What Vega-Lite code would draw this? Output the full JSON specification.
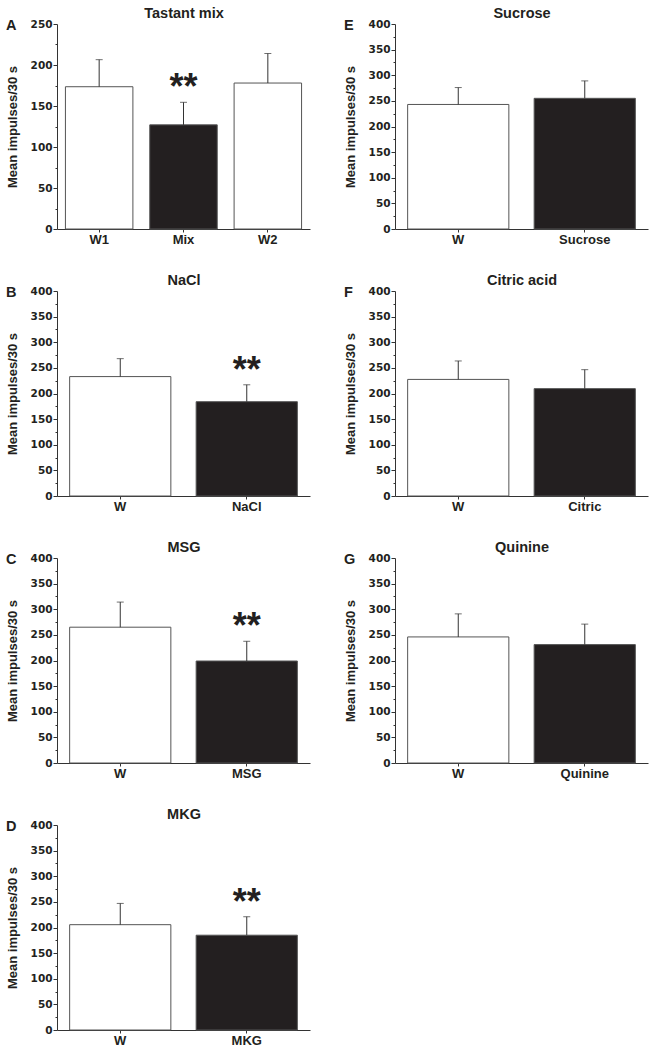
{
  "$schema": "https://vega.github.io/schema/vega-lite/v6.json",
  "padding": {"left": 6, "top": 5, "right": 4, "bottom": 2},
  "datasets": {
    "taste": [
      {"panel": "A", "cond": "W1", "mean": 173.5, "err": 206.5, "kind": "water", "sig": ""},
      {"panel": "A", "cond": "Mix", "mean": 127, "err": 154.5, "kind": "tastant", "sig": "**"},
      {"panel": "A", "cond": "W2", "mean": 178, "err": 214, "kind": "water", "sig": ""},
      {"panel": "B", "cond": "W", "mean": 233, "err": 268, "kind": "water", "sig": ""},
      {"panel": "B", "cond": "NaCl", "mean": 184, "err": 217, "kind": "tastant", "sig": "**"},
      {"panel": "C", "cond": "W", "mean": 265, "err": 314, "kind": "water", "sig": ""},
      {"panel": "C", "cond": "MSG", "mean": 199, "err": 237.5, "kind": "tastant", "sig": "**"},
      {"panel": "D", "cond": "W", "mean": 205.5, "err": 247, "kind": "water", "sig": ""},
      {"panel": "D", "cond": "MKG", "mean": 185, "err": 221, "kind": "tastant", "sig": "**"},
      {"panel": "E", "cond": "W", "mean": 243, "err": 276, "kind": "water", "sig": ""},
      {"panel": "E", "cond": "Sucrose", "mean": 255, "err": 289, "kind": "tastant", "sig": ""},
      {"panel": "F", "cond": "W", "mean": 227.5, "err": 263.5, "kind": "water", "sig": ""},
      {"panel": "F", "cond": "Citric", "mean": 209.5, "err": 246.5, "kind": "tastant", "sig": ""},
      {"panel": "G", "cond": "W", "mean": 246, "err": 291, "kind": "water", "sig": ""},
      {"panel": "G", "cond": "Quinine", "mean": 231, "err": 271, "kind": "tastant", "sig": ""}
    ]
  },
  "data": {"name": "taste"},
  "columns": 2,
  "spacing": {"row": 62, "column": 85},
  "bounds": "flush",
  "concat": [
    {
      "title": {"text": "A"},
      "width": 253, "height": 205,
      "transform": [{"filter": "datum.panel === 'A'"}],
      "layer": [
        {"mark": {"type": "bar", "stroke": "#555", "strokeWidth": 1},
         "encoding": {
           "x": {"field": "cond", "type": "nominal", "sort": null, "scale": {"paddingInner": 0.2, "paddingOuter": 0.1}, "axis": {"title": null, "labelAngle": 0, "tickSize": 3, "labelPadding": 1, "labelFontSize": 13}},
           "y": {"field": "mean", "type": "quantitative", "scale": {"domain": [0, 250], "nice": false}, "axis": {"title": "Mean impulses/30 s", "values": [0,25,50,75,100,125,150,175,200,225,250], "labelOverlap": false, "labelExpr": "datum.value % 50 === 0 ? datum.label : ''", "tickSize": {"condition": {"test": "datum.value % 50 === 0", "value": 4}, "value": 2}}},
           "color": {"field": "kind", "type": "nominal", "scale": {"domain": ["water", "tastant"], "range": ["#ffffff", "#231f20"]}, "legend": null}
         }},
        {"mark": {"type": "rule", "color": "#333", "strokeWidth": 1},
         "encoding": {
           "x": {"field": "cond", "type": "nominal", "sort": null, "axis": null},
           "y": {"field": "mean", "type": "quantitative", "scale": {"domain": [0, 250], "nice": false}, "axis": {"title": "Mean impulses/30 s", "values": [0,25,50,75,100,125,150,175,200,225,250], "labelOverlap": false, "labelExpr": "datum.value % 50 === 0 ? datum.label : ''", "tickSize": {"condition": {"test": "datum.value % 50 === 0", "value": 4}, "value": 2}}},
           "y2": {"field": "err"}
         }},
        {"mark": {"type": "tick", "color": "#333", "size": 7, "thickness": 1},
         "encoding": {
           "x": {"field": "cond", "type": "nominal", "sort": null, "axis": {"orient": "top", "title": "Tastant mix", "labels": false, "ticks": false, "domain": false, "titlePadding": 4, "titleFontSize": 14.5}},
           "y": {"field": "err", "type": "quantitative", "scale": {"domain": [0, 250], "nice": false}, "axis": {"title": "Mean impulses/30 s", "values": [0,25,50,75,100,125,150,175,200,225,250], "labelOverlap": false, "labelExpr": "datum.value % 50 === 0 ? datum.label : ''", "tickSize": {"condition": {"test": "datum.value % 50 === 0", "value": 4}, "value": 2}}}
         }},
        {"transform": [{"filter": "datum.sig !== ''"}],
         "mark": {"type": "text", "fontSize": 36, "fontWeight": "bold", "baseline": "alphabetic", "dy": -3, "color": "#231f20"},
         "encoding": {
           "x": {"field": "cond", "type": "nominal", "sort": null, "axis": null},
           "y": {"field": "err", "type": "quantitative", "scale": {"domain": [0, 250], "nice": false}, "axis": {"title": "Mean impulses/30 s", "values": [0,25,50,75,100,125,150,175,200,225,250], "labelOverlap": false, "labelExpr": "datum.value % 50 === 0 ? datum.label : ''", "tickSize": {"condition": {"test": "datum.value % 50 === 0", "value": 4}, "value": 2}}},
           "text": {"field": "sig"}
         }}
      ],
      "resolve": {"axis": {"x": "independent"}}
    },
    {
      "title": {"text": "E"},
      "width": 253, "height": 205,
      "transform": [{"filter": "datum.panel === 'E'"}],
      "layer": [
        {"mark": {"type": "bar", "stroke": "#555", "strokeWidth": 1},
         "encoding": {
           "x": {"field": "cond", "type": "nominal", "sort": null, "scale": {"paddingInner": 0.2, "paddingOuter": 0.1}, "axis": {"title": null, "labelAngle": 0, "tickSize": 3, "labelPadding": 1, "labelFontSize": 13}},
           "y": {"field": "mean", "type": "quantitative", "scale": {"domain": [0, 400], "nice": false}, "axis": {"title": "Mean impulses/30 s", "values": [0,25,50,75,100,125,150,175,200,225,250,275,300,325,350,375,400], "labelOverlap": false, "labelExpr": "datum.value % 50 === 0 ? datum.label : ''", "tickSize": {"condition": {"test": "datum.value % 50 === 0", "value": 4}, "value": 2}}},
           "color": {"field": "kind", "type": "nominal", "scale": {"domain": ["water", "tastant"], "range": ["#ffffff", "#231f20"]}, "legend": null}
         }},
        {"mark": {"type": "rule", "color": "#333", "strokeWidth": 1},
         "encoding": {
           "x": {"field": "cond", "type": "nominal", "sort": null, "axis": null},
           "y": {"field": "mean", "type": "quantitative", "scale": {"domain": [0, 400], "nice": false}, "axis": {"title": "Mean impulses/30 s", "values": [0,25,50,75,100,125,150,175,200,225,250,275,300,325,350,375,400], "labelOverlap": false, "labelExpr": "datum.value % 50 === 0 ? datum.label : ''", "tickSize": {"condition": {"test": "datum.value % 50 === 0", "value": 4}, "value": 2}}},
           "y2": {"field": "err"}
         }},
        {"mark": {"type": "tick", "color": "#333", "size": 7, "thickness": 1},
         "encoding": {
           "x": {"field": "cond", "type": "nominal", "sort": null, "axis": {"orient": "top", "title": "Sucrose", "labels": false, "ticks": false, "domain": false, "titlePadding": 4, "titleFontSize": 14.5}},
           "y": {"field": "err", "type": "quantitative", "scale": {"domain": [0, 400], "nice": false}, "axis": {"title": "Mean impulses/30 s", "values": [0,25,50,75,100,125,150,175,200,225,250,275,300,325,350,375,400], "labelOverlap": false, "labelExpr": "datum.value % 50 === 0 ? datum.label : ''", "tickSize": {"condition": {"test": "datum.value % 50 === 0", "value": 4}, "value": 2}}}
         }}
      ],
      "resolve": {"axis": {"x": "independent"}}
    },
    {
      "title": {"text": "B"},
      "width": 253, "height": 205,
      "transform": [{"filter": "datum.panel === 'B'"}],
      "layer": [
        {"mark": {"type": "bar", "stroke": "#555", "strokeWidth": 1},
         "encoding": {
           "x": {"field": "cond", "type": "nominal", "sort": null, "scale": {"paddingInner": 0.2, "paddingOuter": 0.1}, "axis": {"title": null, "labelAngle": 0, "tickSize": 3, "labelPadding": 1, "labelFontSize": 13}},
           "y": {"field": "mean", "type": "quantitative", "scale": {"domain": [0, 400], "nice": false}, "axis": {"title": "Mean impulses/30 s", "values": [0,25,50,75,100,125,150,175,200,225,250,275,300,325,350,375,400], "labelOverlap": false, "labelExpr": "datum.value % 50 === 0 ? datum.label : ''", "tickSize": {"condition": {"test": "datum.value % 50 === 0", "value": 4}, "value": 2}}},
           "color": {"field": "kind", "type": "nominal", "scale": {"domain": ["water", "tastant"], "range": ["#ffffff", "#231f20"]}, "legend": null}
         }},
        {"mark": {"type": "rule", "color": "#333", "strokeWidth": 1},
         "encoding": {
           "x": {"field": "cond", "type": "nominal", "sort": null, "axis": null},
           "y": {"field": "mean", "type": "quantitative", "scale": {"domain": [0, 400], "nice": false}, "axis": {"title": "Mean impulses/30 s", "values": [0,25,50,75,100,125,150,175,200,225,250,275,300,325,350,375,400], "labelOverlap": false, "labelExpr": "datum.value % 50 === 0 ? datum.label : ''", "tickSize": {"condition": {"test": "datum.value % 50 === 0", "value": 4}, "value": 2}}},
           "y2": {"field": "err"}
         }},
        {"mark": {"type": "tick", "color": "#333", "size": 7, "thickness": 1},
         "encoding": {
           "x": {"field": "cond", "type": "nominal", "sort": null, "axis": {"orient": "top", "title": "NaCl", "labels": false, "ticks": false, "domain": false, "titlePadding": 4, "titleFontSize": 14.5}},
           "y": {"field": "err", "type": "quantitative", "scale": {"domain": [0, 400], "nice": false}, "axis": {"title": "Mean impulses/30 s", "values": [0,25,50,75,100,125,150,175,200,225,250,275,300,325,350,375,400], "labelOverlap": false, "labelExpr": "datum.value % 50 === 0 ? datum.label : ''", "tickSize": {"condition": {"test": "datum.value % 50 === 0", "value": 4}, "value": 2}}}
         }},
        {"transform": [{"filter": "datum.sig !== ''"}],
         "mark": {"type": "text", "fontSize": 36, "fontWeight": "bold", "baseline": "alphabetic", "dy": -3, "color": "#231f20"},
         "encoding": {
           "x": {"field": "cond", "type": "nominal", "sort": null, "axis": null},
           "y": {"field": "err", "type": "quantitative", "scale": {"domain": [0, 400], "nice": false}, "axis": {"title": "Mean impulses/30 s", "values": [0,25,50,75,100,125,150,175,200,225,250,275,300,325,350,375,400], "labelOverlap": false, "labelExpr": "datum.value % 50 === 0 ? datum.label : ''", "tickSize": {"condition": {"test": "datum.value % 50 === 0", "value": 4}, "value": 2}}},
           "text": {"field": "sig"}
         }}
      ],
      "resolve": {"axis": {"x": "independent"}}
    },
    {
      "title": {"text": "F"},
      "width": 253, "height": 205,
      "transform": [{"filter": "datum.panel === 'F'"}],
      "layer": [
        {"mark": {"type": "bar", "stroke": "#555", "strokeWidth": 1},
         "encoding": {
           "x": {"field": "cond", "type": "nominal", "sort": null, "scale": {"paddingInner": 0.2, "paddingOuter": 0.1}, "axis": {"title": null, "labelAngle": 0, "tickSize": 3, "labelPadding": 1, "labelFontSize": 13}},
           "y": {"field": "mean", "type": "quantitative", "scale": {"domain": [0, 400], "nice": false}, "axis": {"title": "Mean impulses/30 s", "values": [0,25,50,75,100,125,150,175,200,225,250,275,300,325,350,375,400], "labelOverlap": false, "labelExpr": "datum.value % 50 === 0 ? datum.label : ''", "tickSize": {"condition": {"test": "datum.value % 50 === 0", "value": 4}, "value": 2}}},
           "color": {"field": "kind", "type": "nominal", "scale": {"domain": ["water", "tastant"], "range": ["#ffffff", "#231f20"]}, "legend": null}
         }},
        {"mark": {"type": "rule", "color": "#333", "strokeWidth": 1},
         "encoding": {
           "x": {"field": "cond", "type": "nominal", "sort": null, "axis": null},
           "y": {"field": "mean", "type": "quantitative", "scale": {"domain": [0, 400], "nice": false}, "axis": {"title": "Mean impulses/30 s", "values": [0,25,50,75,100,125,150,175,200,225,250,275,300,325,350,375,400], "labelOverlap": false, "labelExpr": "datum.value % 50 === 0 ? datum.label : ''", "tickSize": {"condition": {"test": "datum.value % 50 === 0", "value": 4}, "value": 2}}},
           "y2": {"field": "err"}
         }},
        {"mark": {"type": "tick", "color": "#333", "size": 7, "thickness": 1},
         "encoding": {
           "x": {"field": "cond", "type": "nominal", "sort": null, "axis": {"orient": "top", "title": "Citric acid", "labels": false, "ticks": false, "domain": false, "titlePadding": 4, "titleFontSize": 14.5}},
           "y": {"field": "err", "type": "quantitative", "scale": {"domain": [0, 400], "nice": false}, "axis": {"title": "Mean impulses/30 s", "values": [0,25,50,75,100,125,150,175,200,225,250,275,300,325,350,375,400], "labelOverlap": false, "labelExpr": "datum.value % 50 === 0 ? datum.label : ''", "tickSize": {"condition": {"test": "datum.value % 50 === 0", "value": 4}, "value": 2}}}
         }}
      ],
      "resolve": {"axis": {"x": "independent"}}
    },
    {
      "title": {"text": "C"},
      "width": 253, "height": 205,
      "transform": [{"filter": "datum.panel === 'C'"}],
      "layer": [
        {"mark": {"type": "bar", "stroke": "#555", "strokeWidth": 1},
         "encoding": {
           "x": {"field": "cond", "type": "nominal", "sort": null, "scale": {"paddingInner": 0.2, "paddingOuter": 0.1}, "axis": {"title": null, "labelAngle": 0, "tickSize": 3, "labelPadding": 1, "labelFontSize": 13}},
           "y": {"field": "mean", "type": "quantitative", "scale": {"domain": [0, 400], "nice": false}, "axis": {"title": "Mean impulses/30 s", "values": [0,25,50,75,100,125,150,175,200,225,250,275,300,325,350,375,400], "labelOverlap": false, "labelExpr": "datum.value % 50 === 0 ? datum.label : ''", "tickSize": {"condition": {"test": "datum.value % 50 === 0", "value": 4}, "value": 2}}},
           "color": {"field": "kind", "type": "nominal", "scale": {"domain": ["water", "tastant"], "range": ["#ffffff", "#231f20"]}, "legend": null}
         }},
        {"mark": {"type": "rule", "color": "#333", "strokeWidth": 1},
         "encoding": {
           "x": {"field": "cond", "type": "nominal", "sort": null, "axis": null},
           "y": {"field": "mean", "type": "quantitative", "scale": {"domain": [0, 400], "nice": false}, "axis": {"title": "Mean impulses/30 s", "values": [0,25,50,75,100,125,150,175,200,225,250,275,300,325,350,375,400], "labelOverlap": false, "labelExpr": "datum.value % 50 === 0 ? datum.label : ''", "tickSize": {"condition": {"test": "datum.value % 50 === 0", "value": 4}, "value": 2}}},
           "y2": {"field": "err"}
         }},
        {"mark": {"type": "tick", "color": "#333", "size": 7, "thickness": 1},
         "encoding": {
           "x": {"field": "cond", "type": "nominal", "sort": null, "axis": {"orient": "top", "title": "MSG", "labels": false, "ticks": false, "domain": false, "titlePadding": 4, "titleFontSize": 14.5}},
           "y": {"field": "err", "type": "quantitative", "scale": {"domain": [0, 400], "nice": false}, "axis": {"title": "Mean impulses/30 s", "values": [0,25,50,75,100,125,150,175,200,225,250,275,300,325,350,375,400], "labelOverlap": false, "labelExpr": "datum.value % 50 === 0 ? datum.label : ''", "tickSize": {"condition": {"test": "datum.value % 50 === 0", "value": 4}, "value": 2}}}
         }},
        {"transform": [{"filter": "datum.sig !== ''"}],
         "mark": {"type": "text", "fontSize": 36, "fontWeight": "bold", "baseline": "alphabetic", "dy": -3, "color": "#231f20"},
         "encoding": {
           "x": {"field": "cond", "type": "nominal", "sort": null, "axis": null},
           "y": {"field": "err", "type": "quantitative", "scale": {"domain": [0, 400], "nice": false}, "axis": {"title": "Mean impulses/30 s", "values": [0,25,50,75,100,125,150,175,200,225,250,275,300,325,350,375,400], "labelOverlap": false, "labelExpr": "datum.value % 50 === 0 ? datum.label : ''", "tickSize": {"condition": {"test": "datum.value % 50 === 0", "value": 4}, "value": 2}}},
           "text": {"field": "sig"}
         }}
      ],
      "resolve": {"axis": {"x": "independent"}}
    },
    {
      "title": {"text": "G"},
      "width": 253, "height": 205,
      "transform": [{"filter": "datum.panel === 'G'"}],
      "layer": [
        {"mark": {"type": "bar", "stroke": "#555", "strokeWidth": 1},
         "encoding": {
           "x": {"field": "cond", "type": "nominal", "sort": null, "scale": {"paddingInner": 0.2, "paddingOuter": 0.1}, "axis": {"title": null, "labelAngle": 0, "tickSize": 3, "labelPadding": 1, "labelFontSize": 13}},
           "y": {"field": "mean", "type": "quantitative", "scale": {"domain": [0, 400], "nice": false}, "axis": {"title": "Mean impulses/30 s", "values": [0,25,50,75,100,125,150,175,200,225,250,275,300,325,350,375,400], "labelOverlap": false, "labelExpr": "datum.value % 50 === 0 ? datum.label : ''", "tickSize": {"condition": {"test": "datum.value % 50 === 0", "value": 4}, "value": 2}}},
           "color": {"field": "kind", "type": "nominal", "scale": {"domain": ["water", "tastant"], "range": ["#ffffff", "#231f20"]}, "legend": null}
         }},
        {"mark": {"type": "rule", "color": "#333", "strokeWidth": 1},
         "encoding": {
           "x": {"field": "cond", "type": "nominal", "sort": null, "axis": null},
           "y": {"field": "mean", "type": "quantitative", "scale": {"domain": [0, 400], "nice": false}, "axis": {"title": "Mean impulses/30 s", "values": [0,25,50,75,100,125,150,175,200,225,250,275,300,325,350,375,400], "labelOverlap": false, "labelExpr": "datum.value % 50 === 0 ? datum.label : ''", "tickSize": {"condition": {"test": "datum.value % 50 === 0", "value": 4}, "value": 2}}},
           "y2": {"field": "err"}
         }},
        {"mark": {"type": "tick", "color": "#333", "size": 7, "thickness": 1},
         "encoding": {
           "x": {"field": "cond", "type": "nominal", "sort": null, "axis": {"orient": "top", "title": "Quinine", "labels": false, "ticks": false, "domain": false, "titlePadding": 4, "titleFontSize": 14.5}},
           "y": {"field": "err", "type": "quantitative", "scale": {"domain": [0, 400], "nice": false}, "axis": {"title": "Mean impulses/30 s", "values": [0,25,50,75,100,125,150,175,200,225,250,275,300,325,350,375,400], "labelOverlap": false, "labelExpr": "datum.value % 50 === 0 ? datum.label : ''", "tickSize": {"condition": {"test": "datum.value % 50 === 0", "value": 4}, "value": 2}}}
         }}
      ],
      "resolve": {"axis": {"x": "independent"}}
    },
    {
      "title": {"text": "D"},
      "width": 253, "height": 205,
      "transform": [{"filter": "datum.panel === 'D'"}],
      "layer": [
        {"mark": {"type": "bar", "stroke": "#555", "strokeWidth": 1},
         "encoding": {
           "x": {"field": "cond", "type": "nominal", "sort": null, "scale": {"paddingInner": 0.2, "paddingOuter": 0.1}, "axis": {"title": null, "labelAngle": 0, "tickSize": 3, "labelPadding": 1, "labelFontSize": 13}},
           "y": {"field": "mean", "type": "quantitative", "scale": {"domain": [0, 400], "nice": false}, "axis": {"title": "Mean impulses/30 s", "values": [0,25,50,75,100,125,150,175,200,225,250,275,300,325,350,375,400], "labelOverlap": false, "labelExpr": "datum.value % 50 === 0 ? datum.label : ''", "tickSize": {"condition": {"test": "datum.value % 50 === 0", "value": 4}, "value": 2}}},
           "color": {"field": "kind", "type": "nominal", "scale": {"domain": ["water", "tastant"], "range": ["#ffffff", "#231f20"]}, "legend": null}
         }},
        {"mark": {"type": "rule", "color": "#333", "strokeWidth": 1},
         "encoding": {
           "x": {"field": "cond", "type": "nominal", "sort": null, "axis": null},
           "y": {"field": "mean", "type": "quantitative", "scale": {"domain": [0, 400], "nice": false}, "axis": {"title": "Mean impulses/30 s", "values": [0,25,50,75,100,125,150,175,200,225,250,275,300,325,350,375,400], "labelOverlap": false, "labelExpr": "datum.value % 50 === 0 ? datum.label : ''", "tickSize": {"condition": {"test": "datum.value % 50 === 0", "value": 4}, "value": 2}}},
           "y2": {"field": "err"}
         }},
        {"mark": {"type": "tick", "color": "#333", "size": 7, "thickness": 1},
         "encoding": {
           "x": {"field": "cond", "type": "nominal", "sort": null, "axis": {"orient": "top", "title": "MKG", "labels": false, "ticks": false, "domain": false, "titlePadding": 4, "titleFontSize": 14.5}},
           "y": {"field": "err", "type": "quantitative", "scale": {"domain": [0, 400], "nice": false}, "axis": {"title": "Mean impulses/30 s", "values": [0,25,50,75,100,125,150,175,200,225,250,275,300,325,350,375,400], "labelOverlap": false, "labelExpr": "datum.value % 50 === 0 ? datum.label : ''", "tickSize": {"condition": {"test": "datum.value % 50 === 0", "value": 4}, "value": 2}}}
         }},
        {"transform": [{"filter": "datum.sig !== ''"}],
         "mark": {"type": "text", "fontSize": 36, "fontWeight": "bold", "baseline": "alphabetic", "dy": -3, "color": "#231f20"},
         "encoding": {
           "x": {"field": "cond", "type": "nominal", "sort": null, "axis": null},
           "y": {"field": "err", "type": "quantitative", "scale": {"domain": [0, 400], "nice": false}, "axis": {"title": "Mean impulses/30 s", "values": [0,25,50,75,100,125,150,175,200,225,250,275,300,325,350,375,400], "labelOverlap": false, "labelExpr": "datum.value % 50 === 0 ? datum.label : ''", "tickSize": {"condition": {"test": "datum.value % 50 === 0", "value": 4}, "value": 2}}},
           "text": {"field": "sig"}
         }}
      ],
      "resolve": {"axis": {"x": "independent"}}
    }
  ],
  "config": {
    "font": "Liberation Sans",
    "view": {"stroke": null},
    "axis": {
      "grid": false,
      "labelFont": "Liberation Sans",
      "labelFontWeight": "bold",
      "labelFontSize": 10.5,
      "labelColor": "#231f20",
      "labelPadding": 1,
      "titleFont": "Liberation Sans",
      "titleFontWeight": "bold",
      "titleFontSize": 13,
      "titleColor": "#231f20",
      "domainColor": "#333",
      "tickColor": "#333"
    },
    "axisY": {"titlePadding": 11, "labelFont": "DejaVu Sans", "labelFontSize": 10.5},
    "title": {
      "font": "Liberation Sans",
      "fontSize": 14.5,
      "fontWeight": "bold",
      "color": "#231f20",
      "anchor": "start",
      "frame": "bounds",
      "offset": -28
    }
  }
}
